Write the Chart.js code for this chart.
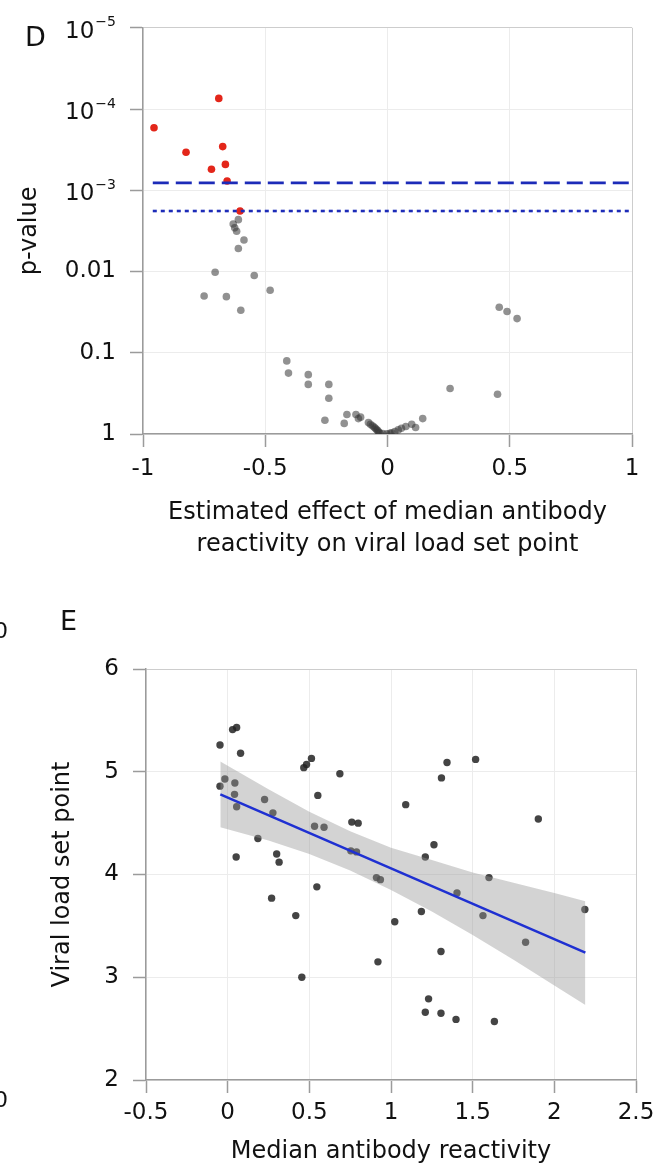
<!DOCTYPE html>
<html>
<head>
<meta charset="utf-8">
<script src="https://cdn.jsdelivr.net/npm/chart.js@4.4.1/dist/chart.umd.min.js"></script>
<style>
  body { margin: 0; background: #fff; width: 661px; height: 1168px; position: relative; overflow: hidden;
         font-family: "DejaVu Sans", "Liberation Sans", sans-serif; color: #111; }
  canvas { position: absolute; left: 0; }
  .panel { position: absolute; font-size: 27px; line-height: 1; z-index: 2; }
  .cut { position: absolute; font-size: 22px; line-height: 1; z-index: 2; }
</style>
</head>
<body>
<div class="panel" style="left:25px;top:23px">D</div>
<div class="panel" style="left:60px;top:607px">E</div>
<div class="cut" style="left:-6px;top:620px">0</div>
<div class="cut" style="left:-6px;top:1089px">0</div>
<canvas id="volcano" width="661" height="590" style="top:0"></canvas>
<canvas id="scatter" width="661" height="578" style="top:590px"></canvas>

<script>
"use strict"

// panel D - effekt mot p-värde, röda punkter är signifikanta
const sigEffect = [-0.955, -0.824, -0.690, -0.674, -0.720, -0.663, -0.656, -0.603]
const sigPValue = [1.7e-4, 3.4e-4, 7.4e-5, 2.9e-4, 5.5e-4, 4.8e-4, 7.7e-4, 1.8e-3]

const otherEffect = [-0.610, -0.631, -0.625, -0.617, -0.587, -0.610, -0.705, -0.545, -0.750, -0.659,
    -0.480, -0.600, -0.412, -0.405, -0.324, -0.324, -0.240, -0.240, -0.256, -0.177,
    -0.166, -0.129, -0.119, -0.110, -0.078, -0.070, -0.062, -0.055, -0.050, -0.045,
    -0.040, -0.036, -0.032, -0.020, -0.003, 0.010, 0.017, 0.030, 0.044, 0.057,
    0.075, 0.099, 0.115, 0.144, 0.256, 0.450, 0.457, 0.489, 0.530]
const otherPValue = [2.3e-3, 2.6e-3, 2.9e-3, 3.2e-3, 4.1e-3, 5.2e-3, 0.0102, 0.0112, 0.020, 0.0204,
    0.017, 0.030, 0.126, 0.178, 0.186, 0.245, 0.245, 0.363, 0.676, 0.741,
    0.575, 0.575, 0.646, 0.62, 0.724, 0.76, 0.79, 0.82, 0.85, 0.88,
    0.91, 0.944, 0.973, 0.986, 0.995, 0.982, 0.966, 0.933, 0.89, 0.85,
    0.81, 0.76, 0.83, 0.646, 0.275, 0.324, 0.0275, 0.031, 0.038]

const dashedCutoff = 8.1e-4
const dottedCutoff = 1.8e-3
const cutoffEffect = [-0.96, 1]

const volcanoXTicks = [-1, -0.5, 0, 0.5, 1]
const volcanoYTicks = [1e-5, 1e-4, 1e-3, 0.01, 0.1, 1]
const volcanoYLabels = ['', '', '', '0.01', '0.1', '1']
const powerExponents = [-5, -4, -3]

// panel E - reaktivitet mot viral load set point
const reactivity = [-0.047, 0.030, 0.055, 0.079, 0.466, 0.483, 0.513, -0.047, -0.017, 0.044,
    0.687, 0.042, 0.055, 0.226, 0.277, 0.552, 0.532, 0.590, 0.760, 0.799,
    0.185, 0.300, 0.315, 0.052, 0.754, 0.789, 0.911, 0.935, 0.546, 0.269,
    0.417, 1.023, 0.454, 1.343, 1.518, 1.309, 1.090, 1.902, 1.263, 1.210,
    1.600, 1.404, 1.186, 1.563, 2.187, 1.824, 1.306, 0.920, 1.230, 1.210,
    1.306, 1.398, 1.633]
const setPoint = [5.26, 5.41, 5.43, 5.18, 5.04, 5.07, 5.13, 4.86, 4.93, 4.89,
    4.98, 4.78, 4.66, 4.73, 4.60, 4.77, 4.47, 4.46, 4.51, 4.50,
    4.35, 4.20, 4.12, 4.17, 4.23, 4.22, 3.97, 3.95, 3.88, 3.77,
    3.60, 3.54, 3.00, 5.09, 5.12, 4.94, 4.68, 4.54, 4.29, 4.17,
    3.97, 3.82, 3.64, 3.60, 3.66, 3.34, 3.25, 3.15, 2.79, 2.66,
    2.65, 2.59, 2.57]

const fitX = [-0.045, 2.19]
const fitY = [4.78, 3.24]

const bandX = [-0.045, 0.25, 0.5, 0.75, 1.0, 1.25, 1.5, 1.75, 2.0, 2.19]
const bandUpper = [5.10, 4.83, 4.61, 4.42, 4.26, 4.14, 4.02, 3.92, 3.82, 3.74]
const bandLower = [4.46, 4.33, 4.20, 4.04, 3.85, 3.64, 3.41, 3.17, 2.92, 2.73]

const scatterXTicks = [-0.5, 0, 0.5, 1, 1.5, 2, 2.5]
const scatterYTicks = [2, 3, 4, 5, 6]

// gemensamma inställningar
const fontFamily = '"DejaVu Sans", "Liberation Sans", sans-serif'
const textColor = '#111'
const axisColor = '#9b9b9b'
const gridColor = '#ececec'
const edgeColor = '#cdcdcd'

Chart.defaults.font.family = fontFamily
Chart.defaults.color = textColor

function toPoints(xs, ys){
    return xs.map((x, i) => ({x: x, y: ys[i]}))
}

function axis(ticks, extra){
    const last = ticks.length - 1
    return Object.assign({
        afterBuildTicks: scale => { scale.ticks = ticks.map(v => ({value: v})) },
        border: {color: axisColor, width: 1.5},
        grid: {
            color: c => (c.index === last ? edgeColor : gridColor),
            lineWidth: 1,
            tickColor: axisColor,
            tickLength: 13,
            tickWidth: 1.5
        },
        ticks: {font: {size: 23}, color: textColor, padding: 14, callback: v => String(v)}
    }, extra)
}

// ritar 10^-k etiketterna på y-axeln i panel D
const powerLabels = {
    id: 'powerLabels',
    afterDraw(chart){
        const ctx = chart.ctx
        const yScale = chart.scales.y
        const right = yScale.right - 27
        ctx.save()
        ctx.fillStyle = textColor
        ctx.textBaseline = 'middle'
        powerExponents.forEach(p => {
            const py = yScale.getPixelForValue(Math.pow(10, p))
            const sup = '\u2212' + Math.abs(p)
            ctx.font = '14px ' + fontFamily
            const supWidth = ctx.measureText(sup).width
            ctx.textAlign = 'left'
            ctx.fillText(sup, right - supWidth, py - 5)
            ctx.font = '23px ' + fontFamily
            ctx.textAlign = 'right'
            ctx.fillText('10', right - supWidth - 1, py + 4)
        })
        ctx.restore()
    }
}

function displayVolcano(){
    const volcanoCanvas = document.getElementById('volcano').getContext('2d')
    const xAxis = axis(volcanoXTicks, {
        type: 'linear', min: -1, max: 1,
        afterFit: scale => { scale.height = 156 },
        title: {
            display: true,
            text: ['Estimated effect of median antibody', 'reactivity on viral load set point'],
            font: {size: 24, lineHeight: 1.333},
            color: textColor,
            padding: {top: 0, bottom: 29}
        }
    })
    xAxis.ticks.padding = 8
    const yAxis = axis(volcanoYTicks, {
        type: 'logarithmic', min: 1e-5, max: 1, reverse: true,
        afterFit: scale => { scale.width = 143 },
        title: {
            display: true, text: 'p-value',
            font: {size: 24, lineHeight: 1.333},
            color: textColor,
            padding: {top: 14, bottom: 0}
        }
    })
    yAxis.grid.color = c => (c.index === 0 ? edgeColor : gridColor)
    yAxis.ticks.callback = (v, i) => volcanoYLabels[i]

    new Chart(volcanoCanvas, {
        type: 'scatter',
        data: {
            datasets: [{
                data: toPoints(cutoffEffect, [dashedCutoff, dashedCutoff]),
                showLine: true, borderColor: '#1c2bb8', borderWidth: 2.6,
                borderDash: [16, 7], pointRadius: 0, order: 0
            }, {
                data: toPoints(cutoffEffect, [dottedCutoff, dottedCutoff]),
                showLine: true, borderColor: '#1c2bb8', borderWidth: 2.6,
                borderDash: [4, 4], pointRadius: 0, order: 0
            }, {
                data: toPoints(sigEffect, sigPValue),
                backgroundColor: '#e3261a', borderWidth: 0, pointRadius: 3.8, order: 1
            }, {
                data: toPoints(otherEffect, otherPValue),
                backgroundColor: 'rgba(55,55,55,0.55)', borderWidth: 0, pointRadius: 3.8, order: 2
            }]
        },
        options: {
            responsive: false,
            animation: false,
            layout: {padding: {top: 23, right: 29, bottom: 0, left: 0}},
            scales: {x: xAxis, y: yAxis},
            plugins: {legend: {display: false}, tooltip: {enabled: false}}
        },
        plugins: [powerLabels]
    })
}

function displayScatter(){
    const scatterCanvas = document.getElementById('scatter').getContext('2d')
    const xAxis = axis(scatterXTicks, {
        type: 'linear', min: -0.5, max: 2.5,
        afterFit: scale => { scale.height = 88 },
        title: {
            display: true, text: 'Median antibody reactivity',
            font: {size: 24, lineHeight: 1.333},
            color: textColor,
            padding: {top: 0, bottom: 0}
        }
    })
    xAxis.ticks.padding = 6
    const yAxis = axis(scatterYTicks, {
        type: 'linear', min: 2, max: 6,
        afterFit: scale => { scale.width = 146 },
        title: {
            display: true, text: 'Viral load set point',
            font: {size: 24, lineHeight: 1.333},
            color: textColor,
            padding: {top: 47, bottom: 0}
        }
    })

    new Chart(scatterCanvas, {
        type: 'scatter',
        data: {
            datasets: [{
                data: toPoints(fitX, fitY),
                showLine: true, borderColor: '#1f30d2', borderWidth: 2.5,
                pointRadius: 0, order: 0
            }, {
                data: toPoints(bandX, bandUpper),
                showLine: true, borderColor: 'rgba(0,0,0,0)', borderWidth: 0,
                pointRadius: 0, fill: '+1', backgroundColor: 'rgba(150,150,150,0.42)', order: 1
            }, {
                data: toPoints(bandX, bandLower),
                showLine: true, borderColor: 'rgba(0,0,0,0)', borderWidth: 0,
                pointRadius: 0, fill: false, order: 1
            }, {
                data: toPoints(reactivity, setPoint),
                backgroundColor: 'rgba(35,35,35,0.85)', borderWidth: 0, pointRadius: 3.7, order: 2
            }]
        },
        options: {
            responsive: false,
            animation: false,
            layout: {padding: {top: 79, right: 25, bottom: 0, left: 0}},
            scales: {x: xAxis, y: yAxis},
            plugins: {legend: {display: false}, tooltip: {enabled: false}}
        }
    })
}

displayVolcano()
displayScatter()
</script>
</body>
</html>
